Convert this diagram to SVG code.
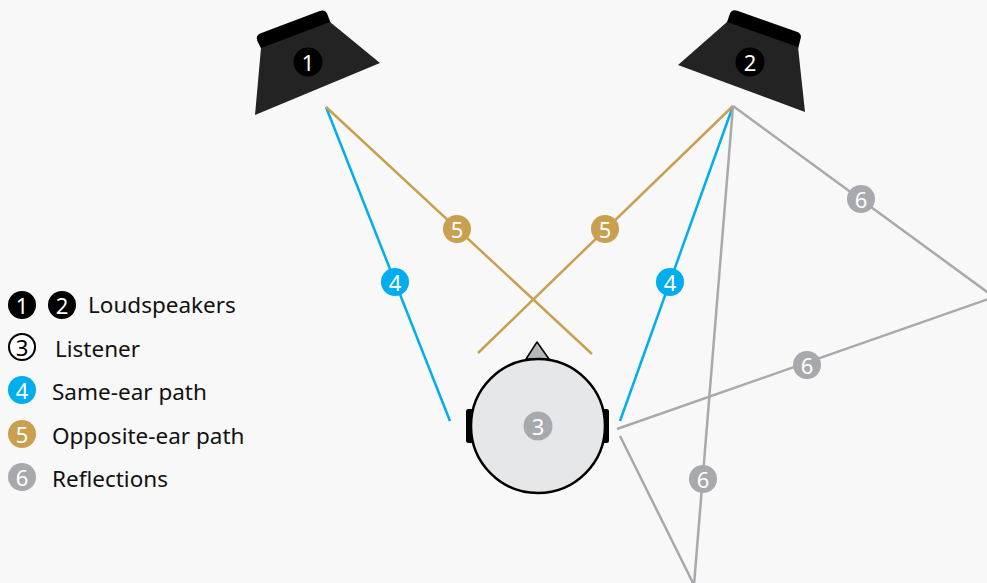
<svg xmlns="http://www.w3.org/2000/svg" width="987" height="583" viewBox="0 0 987 583">
  <style>
    .bg { fill: #f8f8f8; }
    .blue { stroke: #00aeef; stroke-width: 2.5; fill: none; }
    .gold { stroke: #c9a04f; stroke-width: 2.5; fill: none; }
    .gray { stroke: #a7a9ac; stroke-width: 2.5; fill: none; stroke-linejoin: miter; }
    .num { font-family: "Noto Sans", "Open Sans", sans-serif; font-size: 22px; fill: #ffffff; text-anchor: middle; dominant-baseline: central; }
    .lbl { font-family: "Noto Sans", "Open Sans", sans-serif; font-size: 22.5px; fill: #111111; }
    .b-blue { fill: #00aeef; }
    .b-gold { fill: #c9a04f; }
    .b-gray { fill: #a7a9ac; }
    .b-black { fill: #000000; }
    .body { fill: #232323; }
    .cap { fill: #000000; }
  </style>

  <rect class="bg" x="0" y="0" width="987" height="583"/>

  <!-- sound paths -->
  <g id="connectors">
    <line class="blue" x1="326" y1="107" x2="450" y2="421"/>
    <line class="blue" x1="733" y1="106" x2="620" y2="421"/>
    <line class="gold" x1="326" y1="107" x2="592" y2="354"/>
    <line class="gold" x1="733" y1="106" x2="478" y2="353"/>
    <polyline class="gray" points="733,106 994,297 617,429"/>
    <polyline class="gray" points="733,106 694,585 620,436"/>
  </g>

  <!-- path labels -->
  <g id="path-badges">
    <circle class="b-blue" cx="395" cy="282" r="14"/><text class="num" x="395" y="282">4</text>
    <circle class="b-blue" cx="670" cy="282" r="14"/><text class="num" x="670" y="282">4</text>
    <circle class="b-gold" cx="457" cy="229" r="14"/><text class="num" x="457" y="229">5</text>
    <circle class="b-gold" cx="605" cy="229" r="14"/><text class="num" x="605" y="229">5</text>
    <circle class="b-gray" cx="861" cy="199" r="14"/><text class="num" x="861" y="199">6</text>
    <circle class="b-gray" cx="807" cy="365" r="14"/><text class="num" x="807" y="365">6</text>
    <circle class="b-gray" cx="703" cy="479" r="14"/><text class="num" x="703" y="479">6</text>
  </g>

  <!-- left loudspeaker -->
  <g id="speaker-1">
    <path class="cap" transform="translate(261,48) rotate(-20.6)" d="M0,2 L-1,-8 Q-1,-14 5,-14 L68,-14 Q74,-14 74,-8 L74,2 Z"/>
    <polygon class="body" points="261,48 330,22 380,63 255,115"/>
    <circle class="b-black" cx="308" cy="62" r="14.5"/>
    <text class="num" x="308" y="62">1</text>
  </g>

  <!-- right loudspeaker -->
  <g id="speaker-2">
    <path class="cap" transform="translate(727,22) rotate(19.4)" d="M0,2 L0,-8 Q0,-14 6,-14 L69,-14 Q75,-14 75,-8 L76,2 Z"/>
    <polygon class="body" points="727,22 798,47 805,112 678,65"/>
    <circle class="b-black" cx="750" cy="62" r="14.5"/>
    <text class="num" x="750" y="62">2</text>
  </g>

  <!-- listener, seen from above -->
  <g id="listener">
    <polygon points="537,342 526,359 549,359" fill="#b5b6b8" stroke="#000" stroke-width="1.5" stroke-linejoin="round"/>
    <rect x="466" y="409" width="8" height="34" rx="2.5" fill="#000"/>
    <rect x="601" y="409" width="8" height="34" rx="2.5" fill="#000"/>
    <circle cx="538" cy="426" r="67" fill="#e6e7e8" stroke="#000" stroke-width="2.5"/>
    <circle class="b-gray" cx="538" cy="426" r="14.5"/>
    <text class="num" x="538" y="426">3</text>
  </g>

  <!-- key -->
  <g id="legend">
    <circle class="b-black" cx="22" cy="305" r="14"/><text class="num" x="22" y="305">1</text>
    <circle class="b-black" cx="62" cy="305" r="14"/><text class="num" x="62" y="305">2</text>
    <text class="lbl" x="88" y="313">Loudspeakers</text>

    <circle cx="22" cy="347" r="13" fill="#ffffff" stroke="#000" stroke-width="2"/>
    <text class="num" x="22" y="347" style="fill:#000">3</text>
    <text class="lbl" x="55" y="357">Listener</text>

    <circle class="b-blue" cx="22" cy="390" r="14"/><text class="num" x="22" y="390">4</text>
    <text class="lbl" x="52" y="400">Same-ear path</text>

    <circle class="b-gold" cx="22" cy="434" r="14"/><text class="num" x="22" y="434">5</text>
    <text class="lbl" x="52" y="444">Opposite-ear path</text>

    <circle class="b-gray" cx="22" cy="477" r="14"/><text class="num" x="22" y="477">6</text>
    <text class="lbl" x="52" y="487">Reflections</text>
  </g>
</svg>
